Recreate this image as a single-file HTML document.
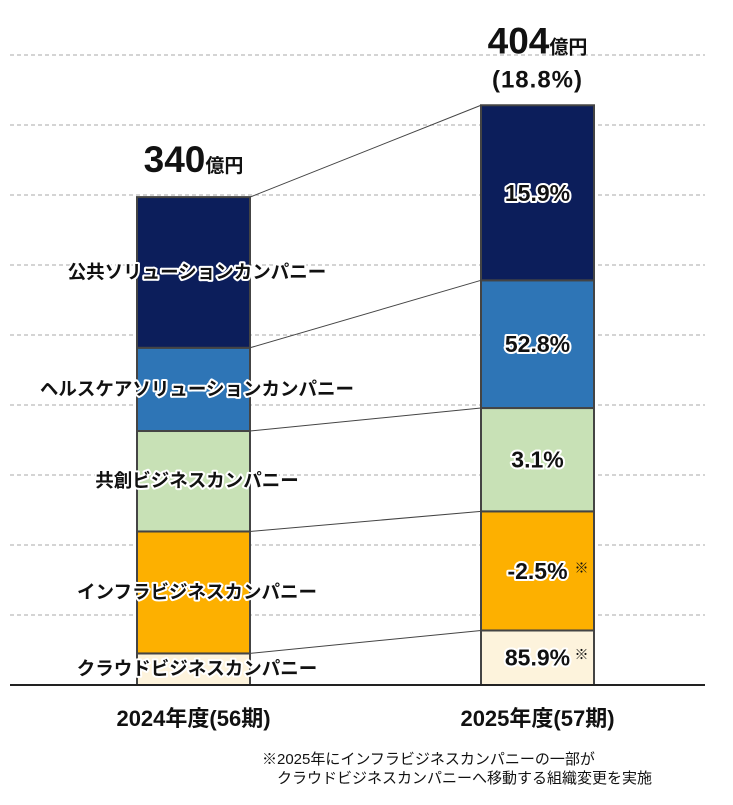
<!DOCTYPE html>
<html><head><meta charset="utf-8"><style>
body{margin:0;background:#fff;}
svg text{font-family:"Liberation Sans","Noto Sans CJK JP",sans-serif;}
.glow{paint-order:stroke;stroke:#fff;stroke-width:4px;stroke-linejoin:round;}
</style></head><body>
<svg id="chart" width="733" height="800" viewBox="0 0 733 800" xmlns="http://www.w3.org/2000/svg"></svg>
<script>
const categories = ["2024年度(56期)", "2025年度(57期)"];
const segmentNames = ["クラウドビジネスカンパニー","インフラビジネスカンパニー","共創ビジネスカンパニー","ヘルスケアソリューションカンパニー","公共ソリューションカンパニー"];
const values2024 = [22, 85, 70, 58, 105];
const values2025 = [38, 83, 72, 89, 122];
const growthLabels = ["85.9%","-2.5%","3.1%","52.8%","15.9%"];
const growthNotes = [true,true,false,false,false];
const totals = ["340","404"];
const totalGrowth = "(18.8%)";
const colors = ["#fdf3dc","#fdb000","#c8e1b6","#2e75b6","#0c1e5b"];

const NS="http://www.w3.org/2000/svg";
const svg=document.getElementById('chart');
function mk(tag,attrs,parent){const e=document.createElementNS(NS,tag);for(const k in attrs)e.setAttribute(k,attrs[k]);(parent||svg).appendChild(e);return e;}
const baseY=685, pxPer=1.435;
function y(v){return baseY - v*pxPer;}
const barX=[137,481], barW=113;
function bx(i){return barX[i];}

for(let i=1;i<=9;i++){
  const g=mk('line',{x1:10,x2:705,y1:baseY-70*i,y2:baseY-70*i,stroke:'#bbb','stroke-width':1.2,'stroke-dasharray':'4,3'});
  
  
}
const series=[values2024,values2025];
const tops=[[],[]];
series.forEach((vals,ci)=>{
  let cum=0;
  vals.forEach((v,si)=>{
    const r=mk('rect',{x:bx(ci),y:y(cum+v),width:barW,height:v*pxPer,fill:colors[si],stroke:'#444','stroke-width':2});
    
    
    cum+=v;
    tops[ci].push(cum);
  });
});
const startTops=[0].concat(tops[0]), endTops=[0].concat(tops[1]);
for(let k=1;k<startTops.length;k++){
  const l=mk('line',{x1:bx(0)+barW,y1:y(startTops[k]),x2:bx(1),y2:y(endTops[k]),stroke:'#444','stroke-width':1});
  
  
}
const bl=mk('line',{x1:10,x2:705,y1:baseY,y2:baseY,stroke:'#222','stroke-width':2});



let cum=0;
values2024.forEach((v,si)=>{
  const cy=y(cum+v/2)+6;
  const t=mk('text',{x:197,y:cy,'text-anchor':'middle','font-size':18.5,'font-weight':'bold',fill:'#111',class:'glow'});
  t.textContent=segmentNames[si];
  
  
  cum+=v;
});
cum=0;
values2025.forEach((v,si)=>{
  const cy=y(cum+v/2)+8;
  const t=mk('text',{x:bx(1)+barW/2,y:cy,'text-anchor':'middle','font-size':23,'font-weight':'bold',fill:'#111',class:'glow'});
  t.textContent=growthLabels[si];
  
  
  if(growthNotes[si]){
    const n=mk('text',{x:bx(1)+barW/2+37,y:cy-6,'font-size':14,fill:'#111'});
    n.textContent='※';
    
    
  }
  cum+=v;
});
[0,1].forEach(ci=>{
  const topY=y(tops[ci][tops[ci].length-1]);
  const ty= ci===0? topY-25 : topY-52;
  const t=mk('text',{x:bx(ci)+barW/2,y:ty,'text-anchor':'middle','font-weight':'bold',fill:'#111'});
  const a=mk('tspan',{'font-size':37},t); a.textContent=totals[ci];
  const b=mk('tspan',{'font-size':19},t); b.textContent='億円';
  
  
});
const tg=mk('text',{x:bx(1)+barW/2,y:y(tops[1][4])-18,'text-anchor':'middle','font-size':24,'font-weight':'bold',fill:'#111','letter-spacing':'1'});
tg.textContent=totalGrowth;


categories.forEach((c,ci)=>{
  const t=mk('text',{x:bx(ci)+barW/2,y:726,'text-anchor':'middle','font-size':22,'font-weight':'bold',fill:'#111'});
  t.textContent=c;
  
  
});
const f1=mk('text',{x:262,y:764,'font-size':15,fill:'#111'});
f1.textContent='※2025年にインフラビジネスカンパニーの一部が';


const f2=mk('text',{x:277,y:783,'font-size':15,fill:'#111'});
f2.textContent='クラウドビジネスカンパニーへ移動する組織変更を実施';


</script>
</body></html>
